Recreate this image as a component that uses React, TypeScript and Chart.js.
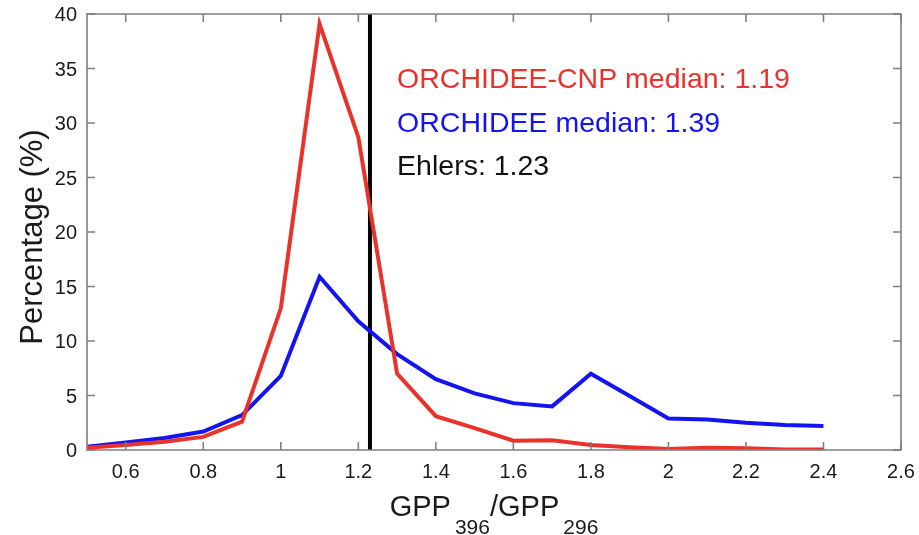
import React, { useEffect, useRef } from "react";
import { Chart, registerables } from "chart.js";

Chart.register(...registerables);

const xValues = [0.5, 0.6, 0.7, 0.8, 0.9, 1.0, 1.1, 1.2, 1.3, 1.4, 1.5, 1.6, 1.7, 1.8, 1.9, 2.0, 2.1, 2.2, 2.3, 2.4];
const cnpValues = [0.2, 0.45, 0.75, 1.2, 2.6, 13.0, 39.1, 28.7, 7.0, 3.1, 2.0, 0.85, 0.9, 0.45, 0.25, 0.1, 0.2, 0.15, 0.05, 0.05];
const orchideeValues = [0.3, 0.7, 1.1, 1.7, 3.2, 6.8, 15.9, 11.8, 8.8, 6.5, 5.2, 4.3, 4.0, 7.0, 4.95, 2.9, 2.8, 2.5, 2.3, 2.2];
const ehlersValue = 1.23;
const xTicks = [0.6, 0.8, 1.0, 1.2, 1.4, 1.6, 1.8, 2.0, 2.2, 2.4, 2.6];
const xTickLabels = ["0.6", "0.8", "1", "1.2", "1.4", "1.6", "1.8", "2", "2.2", "2.4", "2.6"];
const yTicks = [0, 5, 10, 15, 20, 25, 30, 35, 40];
const yTickLabels = ["0", "5", "10", "15", "20", "25", "30", "35", "40"];
const annotations = [
  { text: "ORCHIDEE-CNP median: 1.19", color: "#e8322a" },
  { text: "ORCHIDEE median: 1.39", color: "#1414f0" },
  { text: "Ehlers: 1.23", color: "#111111" },
];

const FONT = '"Liberation Sans", Arial, Helvetica, sans-serif';
const AXIS_COLOR = "#7f7f7f";
const TEXT_COLOR = "#1a1a1a";

const decorPlugin = {
  id: "decor",
  afterDraw(chart: any) {
    const { ctx, chartArea: a, scales } = chart;
    const xs = scales.x;
    const ys = scales.y;
    ctx.save();
    // box
    ctx.strokeStyle = AXIS_COLOR;
    ctx.lineWidth = 1.6;
    ctx.beginPath();
    ctx.rect(a.left, a.top, a.right - a.left, a.bottom - a.top);
    ctx.stroke();
    // inner ticks
    const tl = 8;
    ctx.beginPath();
    xTicks.forEach((v) => {
      const px = xs.getPixelForValue(v);
      ctx.moveTo(px, a.bottom);
      ctx.lineTo(px, a.bottom - tl);
      ctx.moveTo(px, a.top);
      ctx.lineTo(px, a.top + tl);
    });
    yTicks.forEach((v) => {
      const py = ys.getPixelForValue(v);
      ctx.moveTo(a.left, py);
      ctx.lineTo(a.left + tl, py);
      ctx.moveTo(a.right, py);
      ctx.lineTo(a.right - tl, py);
    });
    ctx.stroke();

    // tick labels
    ctx.fillStyle = TEXT_COLOR;
    ctx.font = `20px ${FONT}`;
    ctx.textAlign = "center";
    ctx.textBaseline = "alphabetic";
    xTicks.forEach((v, i) => {
      ctx.fillText(xTickLabels[i], xs.getPixelForValue(v), a.bottom + 28);
    });
    ctx.textAlign = "right";
    yTicks.forEach((v, i) => {
      ctx.fillText(yTickLabels[i], a.left - 10, ys.getPixelForValue(v) + 7);
    });

    // annotations
    ctx.font = `28.5px ${FONT}`;
    ctx.textAlign = "left";
    ctx.textBaseline = "alphabetic";
    const ax = xs.getPixelForValue(1.3);
    const ay = [88, 132, 175];
    annotations.forEach((an, i) => {
      ctx.fillStyle = an.color;
      ctx.fillText(an.text, ax, ay[i]);
    });

    // y title
    ctx.fillStyle = TEXT_COLOR;
    ctx.save();
    ctx.translate(42, 237);
    ctx.rotate(-Math.PI / 2);
    ctx.textAlign = "center";
    ctx.textBaseline = "alphabetic";
    ctx.font = `31px ${FONT}`;
    ctx.fillText("Percentage (%)", 0, 0);
    ctx.restore();

    // x title with subscripts
    const parts = [
      { t: "GPP", sub: false },
      { t: "396", sub: true },
      { t: "/GPP", sub: false },
      { t: "296", sub: true },
    ];
    const big = `29px ${FONT}`;
    const small = `21px ${FONT}`;
    const gap = 4;
    let total = 0;
    parts.forEach((p) => {
      ctx.font = p.sub ? small : big;
      total += ctx.measureText(p.t).width + (p.sub ? gap : 0);
    });
    let cx = (a.left + a.right) / 2 - total / 2;
    const base = 516;
    ctx.textAlign = "left";
    parts.forEach((p) => {
      ctx.font = p.sub ? small : big;
      if (p.sub) cx += gap;
      ctx.fillText(p.t, cx, p.sub ? base + 18 : base);
      cx += ctx.measureText(p.t).width;
    });
    ctx.restore();
  },
};

export default function App() {
  const ref = useRef<HTMLCanvasElement>(null);
  useEffect(() => {
    if (!ref.current) return;
    const chart = new Chart(ref.current, {
      type: "line",
      data: {
        datasets: [
          {
            label: "ORCHIDEE-CNP",
            data: xValues.map((x, i) => ({ x, y: cnpValues[i] })),
            borderColor: "#e8322a",
            borderWidth: 4,
            pointRadius: 0,
            tension: 0,
          },
          {
            label: "ORCHIDEE",
            data: xValues.map((x, i) => ({ x, y: orchideeValues[i] })),
            borderColor: "#1414f0",
            borderWidth: 4,
            pointRadius: 0,
            tension: 0,
          },
          {
            label: "Ehlers",
            data: [
              { x: ehlersValue, y: 0 },
              { x: ehlersValue, y: 40 },
            ],
            borderColor: "#000000",
            borderWidth: 4,
            pointRadius: 0,
          },
        ],
      },
      options: {
        responsive: false,
        animation: false,
        layout: { padding: { top: 14, right: 18, left: 0, bottom: 0 } },
        plugins: { legend: { display: false }, tooltip: { enabled: false } },
        scales: {
          x: {
            type: "linear",
            min: 0.5,
            max: 2.6,
            afterBuildTicks: (s: any) => {
              s.ticks = xTicks.map((v) => ({ value: v }));
            },
            afterFit: (s: any) => {
              s.height = 85;
            },
            grid: { display: false, drawTicks: false },
            border: { display: false },
            ticks: { display: false },
          },
          y: {
            min: 0,
            max: 40,
            afterBuildTicks: (s: any) => {
              s.ticks = yTicks.map((v) => ({ value: v }));
            },
            afterFit: (s: any) => {
              s.width = 87;
            },
            grid: { display: false, drawTicks: false },
            border: { display: false },
            ticks: { display: false },
          },
        },
      },
      plugins: [decorPlugin],
    });
    return () => chart.destroy();
  }, []);
  return (
    <div style={{ position: "absolute", left: 0, top: 0, width: 919, height: 535, background: "#fff" }}>
      <canvas ref={ref} width={919} height={535} />
    </div>
  );
}
